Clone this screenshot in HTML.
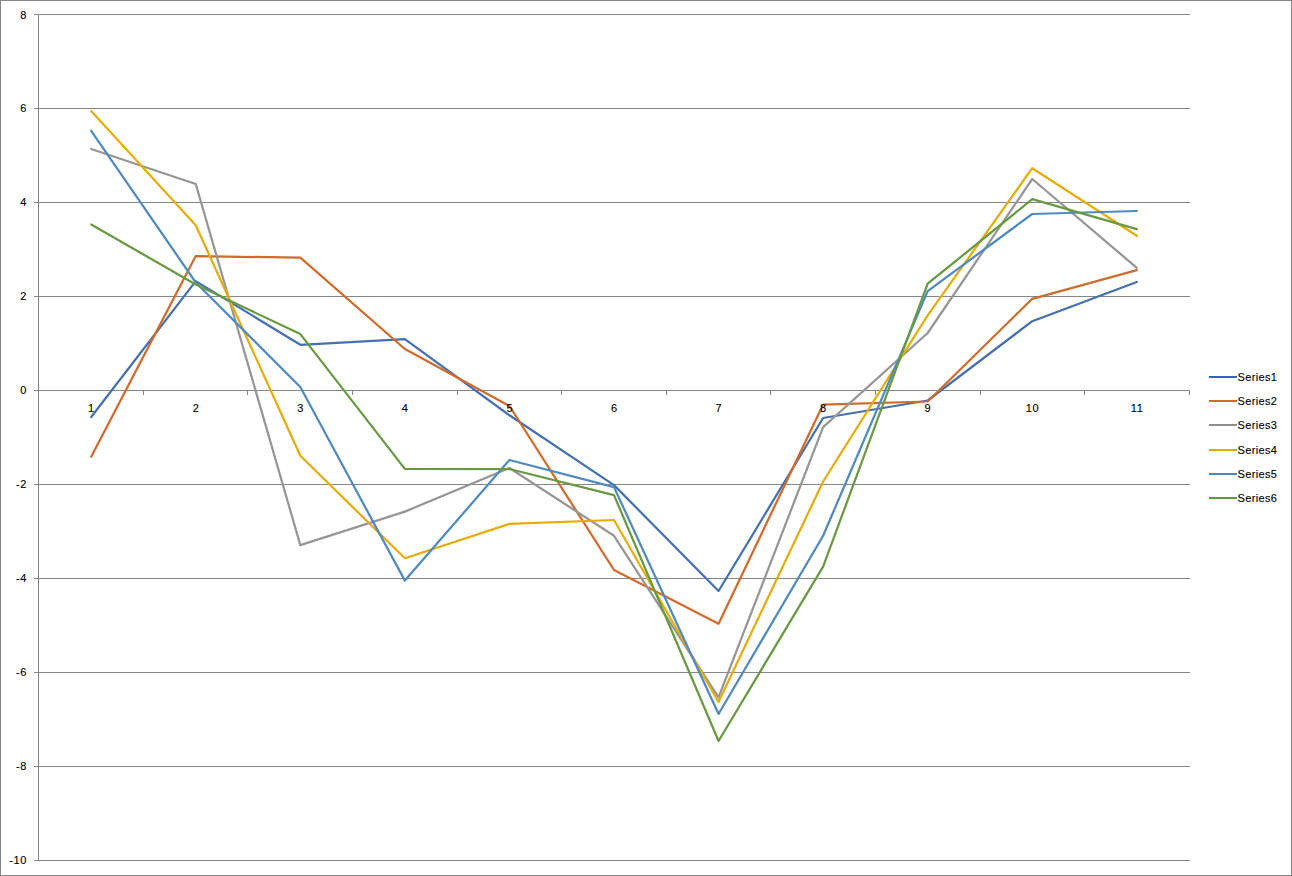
<!DOCTYPE html><html><head><meta charset="utf-8"><style>html,body{margin:0;padding:0;background:#fff;}svg{display:block;}text{font-family:"Liberation Sans",sans-serif;font-size:11px;fill:#000;stroke:#000;stroke-width:0.12px;}</style></head><body>
<svg width="1292" height="876" viewBox="0 0 1292 876">
<rect x="0" y="0" width="1292" height="876" fill="#fff"/>
<rect x="0.5" y="0.5" width="1291" height="875" fill="none" stroke="#868686" stroke-width="1"/>
<path d="M34 14.5H1190 M34 108.5H1190 M34 202.5H1190 M34 296.5H1190 M34 390.5H1190 M34 484.5H1190 M34 578.5H1190 M34 672.5H1190 M34 766.5H1190 M34 860.5H1190" stroke="#868686" stroke-width="1" fill="none" shape-rendering="crispEdges"/>
<path d="M38.5 14V861" stroke="#868686" stroke-width="1" fill="none" shape-rendering="crispEdges"/>
<path d="M38.5 390V395 M143.5 390V395 M247.5 390V395 M352.5 390V395 M457.5 390V395 M561.5 390V395 M666.5 390V395 M770.5 390V395 M875.5 390V395 M980.5 390V395 M1084.5 390V395 M1189.5 390V395" stroke="#868686" stroke-width="1" fill="none" shape-rendering="crispEdges"/>
<text x="27.2" y="18.5" text-anchor="end" style="letter-spacing:0.7px">8</text>
<text x="27.2" y="112.39" text-anchor="end" style="letter-spacing:0.7px">6</text>
<text x="27.2" y="206.28" text-anchor="end" style="letter-spacing:0.7px">4</text>
<text x="27.2" y="300.17" text-anchor="end" style="letter-spacing:0.7px">2</text>
<text x="27.2" y="394.06" text-anchor="end" style="letter-spacing:0.7px">0</text>
<text x="27.2" y="487.95" text-anchor="end" style="letter-spacing:0.7px">-2</text>
<text x="27.2" y="581.84" text-anchor="end" style="letter-spacing:0.7px">-4</text>
<text x="27.2" y="675.73" text-anchor="end" style="letter-spacing:0.7px">-6</text>
<text x="27.2" y="769.62" text-anchor="end" style="letter-spacing:0.7px">-8</text>
<text x="27.2" y="863.51" text-anchor="end" style="letter-spacing:0.7px">-10</text>
<polyline points="91.20,417.00 195.76,281.10 300.32,344.80 404.88,339.10 509.44,415.30 614.00,485.10 718.56,591.00 823.12,418.00 927.68,400.50 1032.24,321.20 1136.80,282.00" fill="none" stroke="#4570B3" stroke-width="2.25" stroke-linejoin="round" stroke-linecap="round"/>
<polyline points="91.20,456.80 195.76,256.10 300.32,257.70 404.88,349.00 509.44,406.00 614.00,570.00 718.56,623.80 823.12,404.60 927.68,401.50 1032.24,298.80 1136.80,270.20" fill="none" stroke="#D16B2C" stroke-width="2.25" stroke-linejoin="round" stroke-linecap="round"/>
<polyline points="91.20,149.00 195.76,184.00 300.32,545.10 404.88,511.60 509.44,468.00 614.00,535.80 718.56,697.30 823.12,427.10 927.68,333.00 1032.24,179.00 1136.80,267.80" fill="none" stroke="#969696" stroke-width="2.25" stroke-linejoin="round" stroke-linecap="round"/>
<polyline points="91.20,111.00 195.76,225.20 300.32,455.80 404.88,558.20 509.44,523.90 614.00,520.00 718.56,702.00 823.12,481.50 927.68,315.40 1032.24,168.20 1136.80,235.80" fill="none" stroke="#E6AD08" stroke-width="2.25" stroke-linejoin="round" stroke-linecap="round"/>
<polyline points="91.20,130.80 195.76,282.50 300.32,387.00 404.88,580.60 509.44,460.00 614.00,487.10 718.56,714.00 823.12,535.80 927.68,291.10 1032.24,214.00 1136.80,211.00" fill="none" stroke="#508ABE" stroke-width="2.25" stroke-linejoin="round" stroke-linecap="round"/>
<polyline points="91.20,224.50 195.76,284.50 300.32,334.10 404.88,468.90 509.44,469.00 614.00,495.10 718.56,741.00 823.12,566.60 927.68,283.70 1032.24,199.20 1136.80,229.10" fill="none" stroke="#699A42" stroke-width="2.25" stroke-linejoin="round" stroke-linecap="round"/>
<text x="91.5" y="412" text-anchor="middle" style="letter-spacing:0.7px">1</text>
<text x="196.1" y="412" text-anchor="middle" style="letter-spacing:0.7px">2</text>
<text x="300.7" y="412" text-anchor="middle" style="letter-spacing:0.7px">3</text>
<text x="405.2" y="412" text-anchor="middle" style="letter-spacing:0.7px">4</text>
<text x="509.8" y="412" text-anchor="middle" style="letter-spacing:0.7px">5</text>
<text x="614.4" y="412" text-anchor="middle" style="letter-spacing:0.7px">6</text>
<text x="718.9" y="412" text-anchor="middle" style="letter-spacing:0.7px">7</text>
<text x="823.5" y="412" text-anchor="middle" style="letter-spacing:0.7px">8</text>
<text x="928.0" y="412" text-anchor="middle" style="letter-spacing:0.7px">9</text>
<text x="1032.6" y="412" text-anchor="middle" style="letter-spacing:0.7px">10</text>
<text x="1137.1" y="412" text-anchor="middle" style="letter-spacing:0.7px">11</text>
<line x1="1209" y1="377" x2="1237" y2="377" stroke="#3966AB" stroke-width="2"/>
<text x="1237.5" y="381" style="letter-spacing:0.35px">Series1</text>
<line x1="1209" y1="401" x2="1237" y2="401" stroke="#D06A28" stroke-width="2"/>
<text x="1237.5" y="405" style="letter-spacing:0.35px">Series2</text>
<line x1="1209" y1="425" x2="1237" y2="425" stroke="#8E8E8E" stroke-width="2"/>
<text x="1237.5" y="429" style="letter-spacing:0.35px">Series3</text>
<line x1="1209" y1="450" x2="1237" y2="450" stroke="#E4AA00" stroke-width="2"/>
<text x="1237.5" y="454" style="letter-spacing:0.35px">Series4</text>
<line x1="1209" y1="474" x2="1237" y2="474" stroke="#4A86C0" stroke-width="2"/>
<text x="1237.5" y="478" style="letter-spacing:0.35px">Series5</text>
<line x1="1209" y1="498" x2="1237" y2="498" stroke="#5E9A3A" stroke-width="2"/>
<text x="1237.5" y="502" style="letter-spacing:0.35px">Series6</text>
</svg></body></html>
